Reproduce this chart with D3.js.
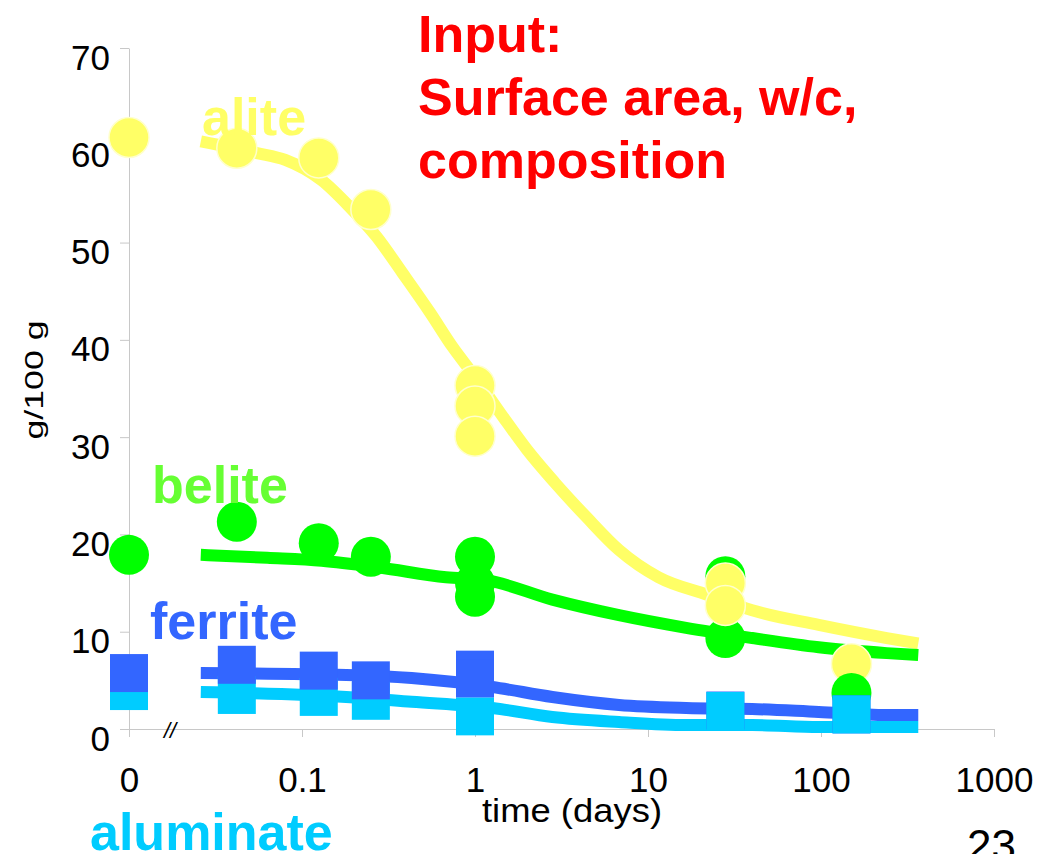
<!DOCTYPE html>
<html>
<head>
<meta charset="utf-8">
<script src="https://d3js.org/d3.v7.min.js"></script>
<style>
  body { margin: 0; background: #fff; }
  svg text { font-family: "Liberation Sans", Arial, sans-serif; }
  .axis path, .axis line { stroke: #c8c8c8; }
</style>
</head>
<body>
<script>
// tick values / labels (time 0 is drawn at the 0.01 position, after the // break)
var xTickVals = [0.01, 0.1, 1, 10, 100, 1000];
var xTickLabels = ["0", "0.1", "1", "10", "100", "1000"];
var yTickVals = [0, 10, 20, 30, 40, 50, 60, 70];

// measured points
var aliteT = [0, 0.042, 0.125, 0.25, 1, 1, 1, 28, 28, 150];
var aliteV = [60.8, 59.7, 58.7, 53.4, 35.3, 33.2, 30.1, 15.0, 12.7, 6.7];
var beliteT = [0, 0.042, 0.125, 0.25, 1, 1, 1, 28, 28, 150];
var beliteV = [17.9, 21.3, 19.1, 17.7, 17.7, 15.0, 13.6, 15.7, 9.35, 3.7];
var ferriteT = [0, 0.042, 0.125, 0.25, 1, 1, 28, 150];
var ferriteV = [5.75, 6.6, 6.0, 5.0, 6.1, 5.2, 1.9, 1.5];
var aluminateT = [0, 0.042, 0.125, 0.25, 1, 28, 150];
var aluminateV = [3.9, 3.5, 3.3, 2.9, 1.3, 1.85, 1.5];

// model curves
var aliteModelT = [0.026, 0.055, 0.08, 0.13, 0.19, 0.27, 0.38, 0.55, 0.74, 1.0, 1.45, 2.0, 2.9, 4.4, 6.8, 11.5, 22, 40, 97, 240, 365];
var aliteModelV = [60.4, 59.2, 58.5, 56.4, 53.6, 50.6, 46.9, 42.8, 39.3, 36.2, 32.1, 28.7, 25.3, 21.8, 18.4, 15.6, 13.8, 12.2, 10.7, 9.35, 8.8];
var beliteModelT = [0.026, 0.063, 0.13, 0.28, 0.68, 1.16, 2.8, 6.8, 16.6, 40, 97, 240, 365];
var beliteModelV = [17.9, 17.6, 17.3, 16.6, 15.6, 15.3, 13.3, 11.7, 10.4, 9.35, 8.4, 7.8, 7.6];
var ferriteModelT = [0.026, 0.18, 0.43, 1.26, 2.8, 6.8, 16.6, 40, 97, 240, 365];
var ferriteModelV = [5.76, 5.55, 5.24, 4.32, 3.29, 2.47, 2.16, 2.06, 1.75, 1.44, 1.44];
var aluminateModelT = [0.026, 0.18, 0.43, 1.26, 2.8, 6.8, 16.6, 40, 97, 240, 365];
var aluminateModelV = [3.8, 3.3, 2.8, 2.16, 1.23, 0.72, 0.41, 0.41, 0.2, 0.2, 0.2];

var width = 1057, height = 854;

var svg = d3.select("body").append("svg")
    .attr("width", width)
    .attr("height", height);

var x = d3.scaleLog().domain([0.01, 1000]).range([129, 994]);
var y = d3.scaleLinear().domain([0, 70]).range([729, 48]);

function xPos(t) { return x(t === 0 ? 0.01 : t); }

function pts(ts, vs) {
    return ts.map(function(t, i) { return {t: t, v: vs[i]}; });
}

// axes
var xAxis = svg.append("g")
    .attr("class", "axis")
    .attr("transform", "translate(0," + y(0) + ")")
    .call(d3.axisBottom(x).tickValues(xTickVals).tickSize(8).tickSizeOuter(0)
        .tickFormat(function(d, i) { return xTickLabels[i]; }));
xAxis.selectAll("text")
    .attr("y", 63).attr("dy", 0)
    .style("font-size", "35px").attr("fill", "#000");

var yAxis = svg.append("g")
    .attr("class", "axis")
    .attr("transform", "translate(" + x(0.01) + ",0)")
    .call(d3.axisLeft(y).tickValues(yTickVals).tickSize(9).tickPadding(10).tickSizeOuter(0));
yAxis.selectAll("text")
    .attr("dy", "21px")
    .style("font-size", "35px").attr("fill", "#000");

// axis break mark
svg.append("text")
    .attr("x", 164).attr("y", 738)
    .style("font-size", "22px").style("font-style", "italic")
    .text("//");

// axis titles
svg.append("text")
    .attr("transform", "translate(43,380) rotate(-90)")
    .attr("text-anchor", "middle")
    .attr("textLength", 119).attr("lengthAdjust", "spacingAndGlyphs")
    .style("font-size", "26px")
    .text("g/100 g");

svg.append("text")
    .attr("x", 572).attr("y", 822)
    .attr("text-anchor", "middle")
    .attr("textLength", 180).attr("lengthAdjust", "spacingAndGlyphs")
    .style("font-size", "34px")
    .text("time (days)");

// model lines
var line = d3.line()
    .x(function(d) { return x(d.t); })
    .y(function(d) { return y(d.v); })
    .curve(d3.curveMonotoneX);

function drawLine(ts, vs, color) {
    svg.append("path")
        .datum(pts(ts, vs))
        .attr("d", line)
        .attr("fill", "none")
        .attr("stroke", color)
        .attr("stroke-width", 12);
}
drawLine(aliteModelT, aliteModelV, "#ffff66");
drawLine(beliteModelT, beliteModelV, "#00ff00");
drawLine(ferriteModelT, ferriteModelV, "#3366ff");
drawLine(aluminateModelT, aluminateModelV, "#00ccff");

// markers
function drawCircles(data, color, stroke) {
    svg.append("g").selectAll("circle")
        .data(data)
        .enter().append("circle")
        .attr("cx", function(d) { return xPos(d.t); })
        .attr("cy", function(d) { return y(d.v); })
        .attr("r", 20)
        .attr("fill", color)
        .attr("stroke", stroke)
        .attr("stroke-width", 1.5);
}

function drawSquares(data, color) {
    var s = 38;
    svg.append("g").selectAll("rect")
        .data(data)
        .enter().append("rect")
        .attr("x", function(d) { return xPos(d.t) - s / 2; })
        .attr("y", function(d) { return y(d.v) - s / 2; })
        .attr("width", s)
        .attr("height", s)
        .attr("fill", color);
}

// stacking order follows the original: last belite point sits over alite
var belitePts = pts(beliteT, beliteV);
drawCircles(belitePts.filter(function(d) { return d.t < 100; }), "#00ff00", "none");
drawCircles(pts(aliteT, aliteV), "#ffff66", "#ffffcc");
drawCircles(belitePts.filter(function(d) { return d.t >= 100; }), "#00ff00", "none");

var ferritePts = pts(ferriteT, ferriteV);
drawSquares(ferritePts.filter(function(d) { return d.t >= 10; }), "#3366ff");
drawSquares(pts(aluminateT, aluminateV), "#00ccff");
drawSquares(ferritePts.filter(function(d) { return d.t < 10; }), "#3366ff");

// series labels
var labels = [
    {text: "alite", x: 202, y: 135, color: "#ffff66"},
    {text: "belite", x: 152, y: 503, color: "#66ff33"},
    {text: "ferrite", x: 150, y: 639, color: "#3366ff"},
    {text: "aluminate", x: 90, y: 850, color: "#00ccff"}
];
svg.selectAll(".lbl")
    .data(labels)
    .enter().append("text")
    .attr("class", "lbl")
    .attr("x", function(d) { return d.x; })
    .attr("y", function(d) { return d.y; })
    .attr("fill", function(d) { return d.color; })
    .style("font-size", "52px")
    .style("font-weight", "bold")
    .text(function(d) { return d.text; });

// red note
var note = ["Input:", "Surface area, w/c,", "composition"];
svg.selectAll(".note")
    .data(note)
    .enter().append("text")
    .attr("class", "note")
    .attr("x", 418)
    .attr("y", function(d, i) { return 52 + i * 63; })
    .attr("fill", "#ff0000")
    .style("font-size", "52px")
    .style("font-weight", "bold")
    .text(function(d) { return d; });

// slide number
svg.append("text")
    .attr("x", 967).attr("y", 861)
    .style("font-size", "44px")
    .text("23");
</script>
</body>
</html>
